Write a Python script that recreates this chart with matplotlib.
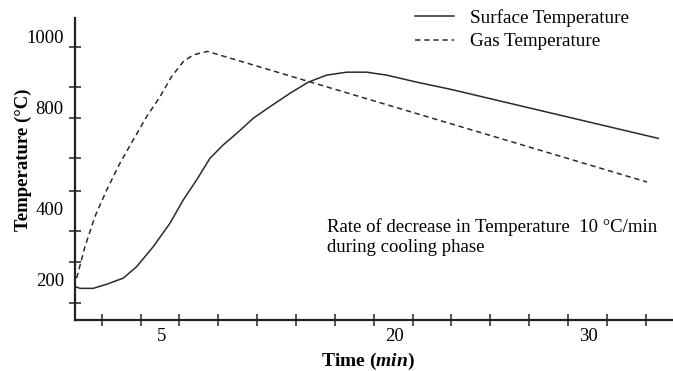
import matplotlib.pyplot as plt
import numpy as np

plt.rcParams["font.family"] = "Liberation Serif"
plt.rcParams["mathtext.fontset"] = "custom"
plt.rcParams["mathtext.it"] = "Liberation Serif:italic:bold"

# time (min) and temperature (C)
t_gas = [0.32, 0.81, 1.40, 2.10, 2.88, 3.67, 4.46, 5.25, 5.94, 6.63, 7.22, 8.06, 34.08]
T_gas = [189, 296, 399, 490, 581, 661, 740, 808, 877, 928, 951, 963, 517]

t_surf = [0.28, 0.52, 1.30, 2.10, 3.08, 3.87, 4.85, 5.84, 6.63, 7.42, 8.21, 9.00,
          9.79, 10.78, 11.76, 12.95, 14.03, 15.12, 16.31, 17.49, 18.67, 20.45,
          22.42, 34.75]
T_surf = [159, 154, 154, 168, 189, 228, 296, 376, 456, 524, 598, 644,
          683, 735, 774, 820, 858, 882, 892, 892, 882, 858,
          834, 666]

x_ticks = np.arange(1.8, 34.5, 2.3)
x_label_pos = [5.35, 19.12, 30.59]
x_labels = ["5", "20", "30"]
y_ticks = [105, 243, 351, 487, 598, 735, 840, 979]
y_label_pos = [183, 428, 770, 1015]
y_labels = ["200", "400", "800", "1000"]

fig = plt.figure(figsize=(6.73, 3.71), dpi=100)
ax = fig.add_axes([0.1114, 0.1375, 0.8886, 0.814])

ax.plot(t_surf, T_surf, color="#2a2a2a", lw=1.1, label="Surface Temperature")
ax.plot(t_gas, T_gas, color="#2a2a2a", lw=1.1, linestyle=(0, (3.5, 2.5)),
        label="Gas Temperature")

ax.set_xlim(0.22, 35.62)
ax.set_ylim(46, 1077)

for s in ["top", "right"]:
    ax.spines[s].set_visible(False)
for s in ["left", "bottom"]:
    ax.spines[s].set_linewidth(1.6)
    ax.spines[s].set_color("#222222")

ax.set_xticks(x_label_pos, x_labels)
ax.set_xticks(x_ticks, minor=True)
ax.set_yticks(y_label_pos, y_labels)
ax.set_yticks(y_ticks, minor=True)
ax.tick_params(which="major", length=0, labelsize=13.5)
ax.tick_params(axis="x", which="major", pad=6)
ax.tick_params(axis="y", which="major", pad=8)
ax.tick_params(which="minor", direction="inout", length=8.5, width=1.1, color="#222222")

ax.set_xlabel("Time ($min$)", fontsize=14, fontweight="bold")
ax.set_ylabel("Temperature (°C)", fontsize=13.5, fontweight="bold")
ax.xaxis.set_label_coords(0.49, -0.103)
ax.yaxis.set_label_coords(-0.072, 0.53)

ax.legend(loc="upper left", bbox_to_anchor=(0.617, 0.975), bbox_transform=fig.transFigure,
          frameon=False, fontsize=13.8, handlelength=2.0, handletextpad=0.85,
          labelspacing=0.3, borderpad=0, borderaxespad=0)

fig.text(327 / 673, 1 - 218 / 371,
         "Rate of decrease in Temperature  10 °C/min\nduring cooling phase",
         fontsize=13.5, va="top", ha="left", linespacing=1.25)

fig.savefig("out.png", dpi=100)
